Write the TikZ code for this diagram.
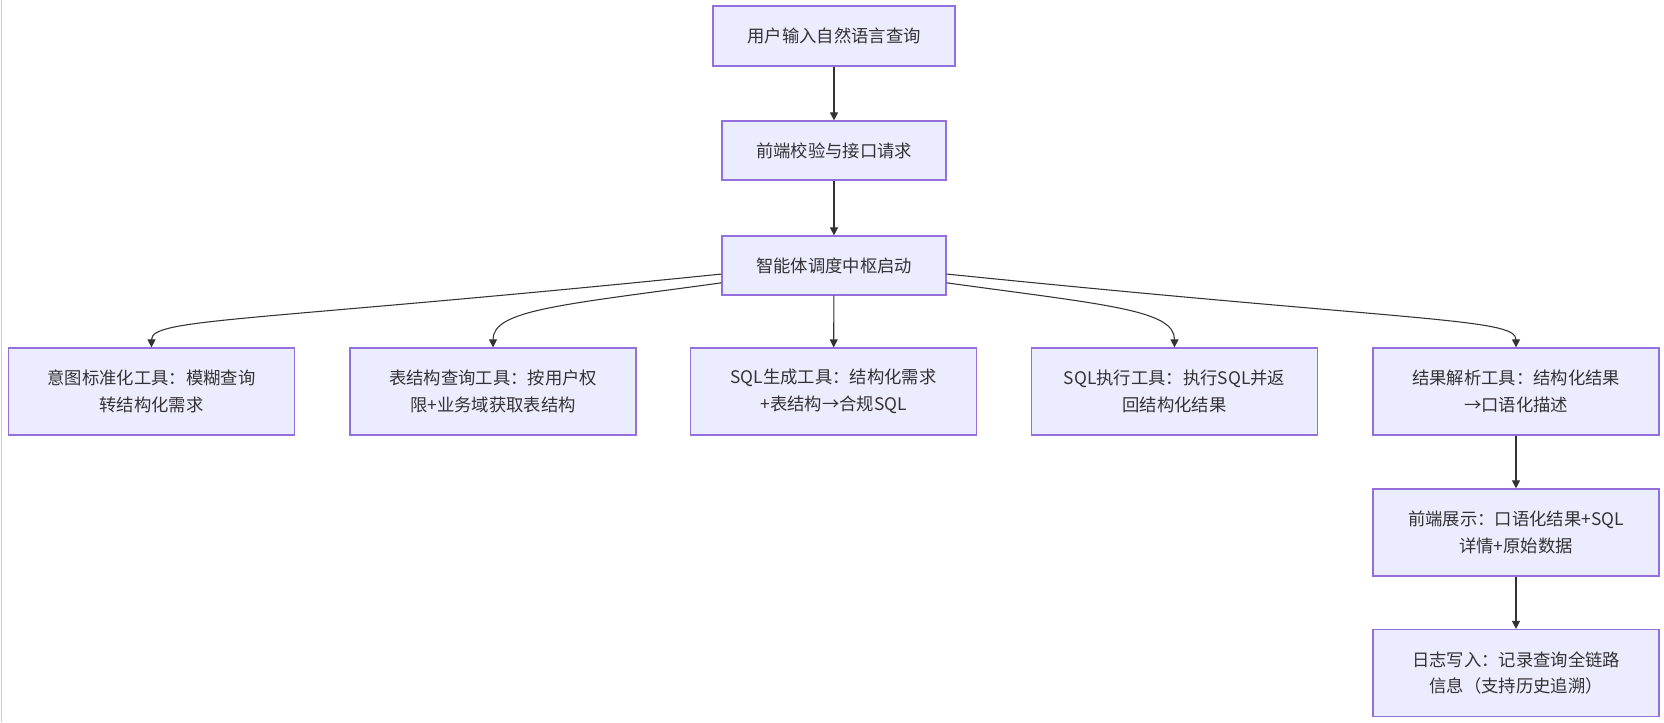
\documentclass[tikz,border=0pt]{standalone}
\usepackage{fontspec}
\setmainfont{Noto Sans CJK SC}
\usetikzlibrary{arrows.meta}
\definecolor{boxfill}{HTML}{ECECFF}
\definecolor{boxline}{HTML}{9370DB}
\definecolor{edgeline}{HTML}{333333}

\begin{document}
\begin{tikzpicture}[x=0.75pt,y=-0.75pt,
  box/.style={draw=boxline,fill=boxfill,line width=0.9pt,text=edgeline,align=center,
    font=\fontsize{13}{20}\selectfont,inner sep=0pt},
  topbox/.style={box,minimum width=168pt,minimum height=44.25pt},
  toolbox/.style={box,minimum width=214.5pt,minimum height=65.25pt},
  edge/.style={draw=edgeline,line width=0.8pt,-{Triangle[length=6pt,width=6pt]}}]
\useasboundingbox (0,0) rectangle (1664,722);
\draw[black!20,line width=1.2pt] (1.5,0) -- (1.5,722);
%TOP SPINE
\node[topbox,minimum width=181.5pt,minimum height=45pt] (query) at (834,36) {用户输入自然语言查询};
\node[topbox] (front) at (834,150.5) {前端校验与接口请求};
\node[topbox] (agent) at (834,265.5) {智能体调度中枢启动};
%TOOLS
\node[toolbox] (intent) at (151.5,391.5) {意图标准化工具：模糊查询\\转结构化需求};
\node[toolbox] (schema) at (493,391.5) {表结构查询工具：按用户权\\限+业务域获取表结构};
\node[toolbox] (sqlgen) at (833.5,391.5) {SQL生成工具：结构化需求\\+表结构→合规SQL};
\node[toolbox] (sqlrun) at (1174.5,391.5) {SQL执行工具：执行SQL并返\\回结构化结果};
\node[toolbox] (parse) at (1516,391.5) {结果解析工具：结构化结果\\→口语化描述};
\node[toolbox] (show) at (1516,532.5) {前端展示：口语化结果+SQL\\详情+原始数据};
\node[toolbox] (log) at (1516,673) {日志写入：记录查询全链路\\信息（支持历史追溯）};
%SPINE LINES
\draw[edge] (query) -- (front);
\draw[edge] (front) -- (agent);
\draw[edge] (agent) -- (sqlgen);
%agent to left tools
\draw[edge] ([yshift=-6.4pt]agent.west) .. controls (250,322) and (151.5,318) .. (intent.north);
\draw[edge] ([yshift=-13pt]agent.west) .. controls (560,305) and (493,310) .. (schema.north);
%agent to right tools
\draw[edge] ([yshift=-13pt]agent.east) .. controls (1108,305) and (1174.5,310) .. (sqlrun.north);
\draw[edge] ([yshift=-6.4pt]agent.east) .. controls (1418,322) and (1516,318) .. (parse.north);
%parse down to log
\draw[edge] (parse) -- (show);
\draw[edge] (show) -- (log);
\end{tikzpicture}
\end{document}
